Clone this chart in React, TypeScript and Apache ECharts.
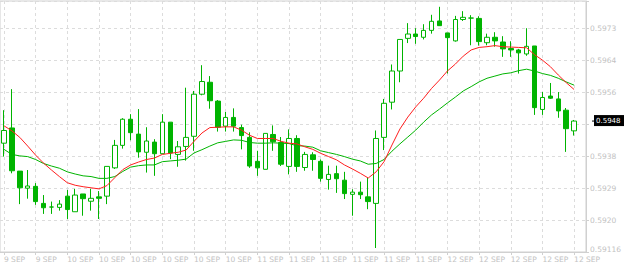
import React, { useEffect, useRef } from 'react';
import * as echarts from 'echarts';

// Tick labels
const xTickLabels = ['9 SEP', '9 SEP', '10 SEP', '10 SEP', '10 SEP', '10 SEP', '10 SEP', '10 SEP', '11 SEP', '11 SEP', '11 SEP', '11 SEP', '11 SEP', '11 SEP', '12 SEP', '12 SEP', '12 SEP', '12 SEP', '12 SEP'];
const yTickLabels = ['0.59116', '0.5920', '0.5929', '0.5938', '0.5947', '0.5956', '0.5964', '0.5973'];
const yMin = 0.59116;
const yMax = 0.59808;
const yStep = 0.00088;

// OHLC values, one entry per candle
const opens = [
  0.59416, 0.59458, 0.59339, 0.59292, 0.59297, 0.5925, 0.5924, 0.59239, 0.5927, 0.59227,
  0.59276, 0.59256, 0.59268, 0.5927, 0.59348, 0.5941, 0.59482, 0.59441, 0.59391, 0.59419,
  0.59387, 0.59474, 0.59385, 0.59407, 0.59435, 0.59551, 0.59584, 0.59532, 0.59463, 0.59487,
  0.59459, 0.59432, 0.59366, 0.59344, 0.5944, 0.59418, 0.59352, 0.59429, 0.59349, 0.59384,
  0.59366, 0.59316, 0.59332, 0.59314, 0.59275, 0.59281, 0.59268, 0.5925, 0.59432, 0.59529,
  0.59615, 0.59705, 0.59717, 0.59708, 0.59727, 0.59753, 0.5972, 0.59698, 0.59757, 0.59761,
  0.5976, 0.59693, 0.59708, 0.59695, 0.59677, 0.59673, 0.59662, 0.59684, 0.59509, 0.59546,
  0.59538, 0.59507, 0.5945,
];
const closes = [
  0.59451, 0.5934, 0.59293, 0.59298, 0.59255, 0.59238, 0.5924, 0.59248, 0.59233, 0.59273,
  0.59263, 0.59264, 0.59264, 0.59352, 0.5941, 0.59482, 0.59445, 0.59392, 0.59422, 0.59387,
  0.59474, 0.59389, 0.59406, 0.59432, 0.59551, 0.59586, 0.59533, 0.5946, 0.59487, 0.59463,
  0.59437, 0.59353, 0.59348, 0.59443, 0.5942, 0.59358, 0.59429, 0.59352, 0.59385, 0.59371,
  0.59319, 0.5933, 0.59318, 0.59277, 0.59281, 0.59274, 0.59255, 0.59429, 0.59526, 0.59615,
  0.59702, 0.59717, 0.5971, 0.59727, 0.59752, 0.5974, 0.59707, 0.59757, 0.59763, 0.59761,
  0.59696, 0.59708, 0.59698, 0.59676, 0.59673, 0.59665, 0.59683, 0.59514, 0.59542, 0.5954,
  0.59505, 0.59456, 0.59477,
];
const lows = [
  0.59379, 0.59333, 0.59248, 0.59263, 0.59246, 0.59221, 0.59221, 0.5923, 0.59207, 0.59227,
  0.59216, 0.5923, 0.59207, 0.59248, 0.59345, 0.59401, 0.59424, 0.59376, 0.59335, 0.59326,
  0.59387, 0.59372, 0.59351, 0.59368, 0.59395, 0.59548, 0.59511, 0.59448, 0.59448, 0.59448,
  0.59399, 0.59348, 0.59326, 0.59344, 0.59395, 0.59353, 0.5933, 0.59337, 0.5934, 0.5934,
  0.5931, 0.59288, 0.59279, 0.59262, 0.59216, 0.59262, 0.59234, 0.59127, 0.59397, 0.59509,
  0.59584, 0.59692, 0.5969, 0.59702, 0.59718, 0.59739, 0.59608, 0.59696, 0.59753, 0.59686,
  0.59685, 0.59686, 0.59682, 0.59654, 0.59654, 0.59608, 0.59657, 0.59494, 0.59494, 0.59538,
  0.59486, 0.59392, 0.59437,
];
const highs = [
  0.59507, 0.59565, 0.59339, 0.59342, 0.59306, 0.59273, 0.59255, 0.59259, 0.59287, 0.5929,
  0.59276, 0.5929, 0.59284, 0.59352, 0.59425, 0.59485, 0.59496, 0.5951, 0.5946, 0.59427,
  0.59496, 0.59474, 0.59422, 0.59569, 0.5956, 0.59631, 0.59601, 0.59535, 0.59502, 0.59512,
  0.59467, 0.59446, 0.59395, 0.59443, 0.59465, 0.59433, 0.59454, 0.59438, 0.59392, 0.59391,
  0.59371, 0.59354, 0.59354, 0.59337, 0.59289, 0.5931, 0.59321, 0.59451, 0.59538, 0.59633,
  0.59702, 0.59747, 0.59733, 0.59744, 0.5977, 0.59792, 0.5972, 0.59767, 0.5978, 0.59769,
  0.59766, 0.59718, 0.59722, 0.59711, 0.59697, 0.59676, 0.59733, 0.59684, 0.59557, 0.59582,
  0.59557, 0.59513, 0.5948,
];

// Moving averages (fast = red, slow = green)
const maFast = [
  0.59464, 0.5945, 0.59432, 0.59408, 0.59383, 0.59361, 0.59342, 0.59324, 0.59307, 0.593,
  0.59296, 0.59293, 0.5929, 0.59299, 0.59321, 0.59343, 0.59356, 0.59364, 0.59371, 0.59375,
  0.59385, 0.59388, 0.59391, 0.59397, 0.59421, 0.59444, 0.59459, 0.5946, 0.59461, 0.59461,
  0.59452, 0.59438, 0.59429, 0.59429, 0.59429, 0.59421, 0.59416, 0.59414, 0.59406, 0.59399,
  0.59388, 0.59379, 0.5937, 0.59356, 0.59345, 0.59333, 0.5932, 0.59337, 0.59365, 0.59411,
  0.59455, 0.59488, 0.59516, 0.5954, 0.59567, 0.5959, 0.59615, 0.59634, 0.59656, 0.59673,
  0.5968, 0.59682, 0.59685, 0.59682, 0.59681, 0.5968, 0.59679, 0.5966, 0.59645, 0.59627,
  0.59604, 0.59583, 0.59564,
];
const maSlow = [
  0.59399, 0.59385, 0.59381, 0.59379, 0.59371, 0.5936, 0.59353, 0.59347, 0.59337, 0.59331,
  0.59326, 0.59324, 0.59319, 0.59319, 0.59324, 0.59338, 0.5935, 0.59354, 0.59356, 0.59356,
  0.59365, 0.59367, 0.59369, 0.59372, 0.59389, 0.59398, 0.59408, 0.59417, 0.59421, 0.59425,
  0.59424, 0.59418, 0.59416, 0.59416, 0.59417, 0.59416, 0.59415, 0.59409, 0.59408, 0.59405,
  0.59395, 0.5939, 0.59385, 0.59379, 0.59372, 0.59367, 0.59358, 0.5936, 0.59371, 0.59394,
  0.59414, 0.59433, 0.59452, 0.59474, 0.59494, 0.5951, 0.59527, 0.59543, 0.5956, 0.59572,
  0.59585, 0.59595, 0.59601, 0.59607, 0.5961, 0.59616, 0.5962, 0.59615, 0.59608, 0.59603,
  0.59595, 0.59585, 0.59576,
];

const GREEN = '#00b400';
const RED = '#ff1e1e';
const GRID_LINE = '#dcdcdc';
const AXIS = '#d0d0d0';
const TEXT = '#c2c2c2';
const FONT = 'DejaVu Sans';

export default function App() {
  const ref = useRef<HTMLDivElement>(null);

  useEffect(() => {
    if (!ref.current) return;
    const chart = echarts.init(ref.current, null, { renderer: 'svg' });
    const n = opens.length;
    const last = closes[n - 1];
    const categories = Array.from({ length: n + 1 }, (_, i) => String(i));
    const every4 = (i: number) => i % 4 === 0 && i < n;
    const candles = opens.map((o, i) => [o, closes[i], lows[i], highs[i]]);

    chart.setOption({
      animation: false,
      backgroundColor: '#ffffff',
      grid: {
        left: 0,
        right: 32,
        top: 1,
        bottom: 14,
        show: true,
        borderColor: AXIS,
        borderWidth: 1,
        backgroundColor: 'transparent',
      },
      xAxis: {
        type: 'category',
        data: categories,
        boundaryGap: true,
        axisLine: { show: true, lineStyle: { color: AXIS } },
        axisTick: {
          show: true,
          interval: every4,
          alignWithLabel: true,
          length: 3,
          lineStyle: { color: AXIS },
        },
        axisLabel: {
          interval: every4,
          formatter: (v: string) => xTickLabels[Number(v) / 4] ?? '',
          align: 'left',
          margin: 3,
          color: TEXT,
          fontSize: 7.5,
          fontFamily: FONT,
        },
        splitLine: {
          show: true,
          interval: every4,
          alignWithLabel: true,
          lineStyle: { color: GRID_LINE, type: [3, 3], width: 1 },
        },
      },
      yAxis: {
        type: 'value',
        position: 'right',
        min: yMin,
        max: yMax,
        interval: yStep,
        axisLine: { show: true, lineStyle: { color: AXIS } },
        axisTick: { show: true, length: 3, lineStyle: { color: AXIS } },
        axisLabel: {
          margin: 4,
          color: TEXT,
          fontSize: 7.5,
          fontFamily: FONT,
          formatter: (v: number, i: number) => {
            // the tick under the current-price box is covered by it
            if (Math.abs(v - last) < yStep / 3) return '';
            return i === 0 ? `{b|${yTickLabels[0]}}` : yTickLabels[i] ?? '';
          },
          rich: {
            b: { color: TEXT, fontSize: 7.5, fontFamily: FONT, padding: [0, 0, 6, 0] },
          },
        },
        splitLine: {
          show: true,
          lineStyle: { color: GRID_LINE, type: [3, 3], width: 1 },
        },
      },
      series: [
        {
          type: 'candlestick',
          data: candles,
          barWidth: 5,
          silent: true,
          itemStyle: {
            color: '#ffffff',
            color0: GREEN,
            borderColor: GREEN,
            borderColor0: GREEN,
            borderWidth: 1,
          },
          z: 2,
        },
        {
          type: 'line',
          data: maSlow,
          symbol: 'none',
          silent: true,
          lineStyle: { color: GREEN, width: 1 },
          z: 3,
        },
        {
          type: 'line',
          data: maFast,
          symbol: 'none',
          silent: true,
          lineStyle: { color: RED, width: 1 },
          z: 4,
        },
      ],
    });

    const py = chart.convertToPixel({ yAxisIndex: 0 }, last) as number;
    const right = 624 - 32;
    chart.setOption({
      graphic: [
        {
          type: 'line',
          shape: { x1: right, y1: py, x2: right + 4, y2: py },
          style: { stroke: '#000000', lineWidth: 1 },
          z: 100,
        },
        {
          type: 'rect',
          shape: { x: right + 2, y: py - 6, width: 30, height: 11 },
          style: { fill: '#000000' },
          z: 100,
        },
        {
          type: 'text',
          x: right + 4,
          y: py,
          style: {
            text: last.toFixed(4),
            fill: '#ffffff',
            font: `7px ${FONT}`,
            verticalAlign: 'middle',
            align: 'left',
          },
          z: 101,
        },
      ],
    });

    return () => chart.dispose();
  }, []);

  return (
    <div
      ref={ref}
      style={{ position: 'fixed', left: 0, top: 0, width: 624, height: 266, background: '#ffffff' }}
    />
  );
}
